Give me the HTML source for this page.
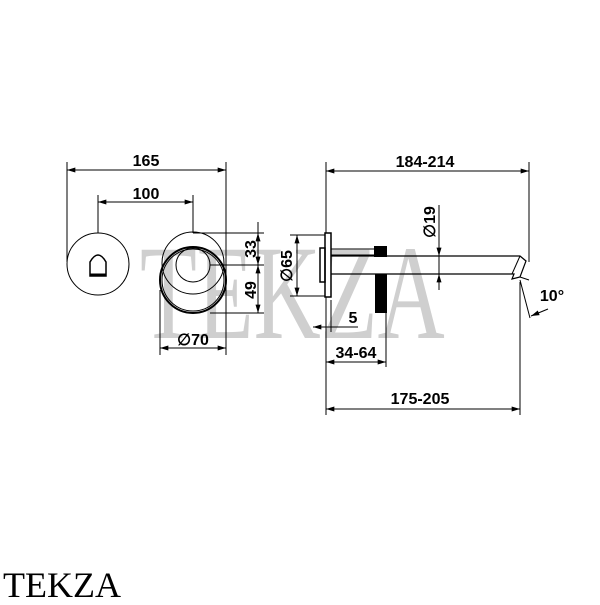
<!DOCTYPE html>
<html><head><style>html,body{margin:0;padding:0;background:#fff}</style></head><body>
<svg width="600" height="600" viewBox="0 0 600 600" xmlns="http://www.w3.org/2000/svg">
<defs>
<marker id="a" viewBox="0 0 10 6" refX="10" refY="3" markerWidth="11" markerHeight="5" orient="auto-start-reverse" markerUnits="userSpaceOnUse"><path d="M0,0 L10,3 L0,6 z" fill="#000"/></marker>
</defs>
<text transform="translate(140,338) scale(1,1.45)" font-family="Liberation Serif, serif" font-size="93" fill="#cfcfcf">TEKZA</text>
<g stroke="#000" stroke-width="1" fill="none">
<line x1="67" y1="162" x2="67" y2="262"/>
<line x1="226" y1="162" x2="226" y2="355"/>
<line x1="98" y1="195" x2="98" y2="233"/>
<line x1="193" y1="195" x2="193" y2="233"/>
<line x1="67" y1="170" x2="226" y2="170" marker-start="url(#a)" marker-end="url(#a)"/>
<line x1="98" y1="202" x2="193" y2="202" marker-start="url(#a)" marker-end="url(#a)"/>
<circle cx="98" cy="264" r="31"/>
<path d="M90,276 L90,262 Q98,248 106,262 L106,276 Z" stroke-width="1.5"/>
<line x1="90" y1="275" x2="106" y2="275" stroke-width="3"/>
<circle cx="193" cy="263" r="31"/>
<circle cx="193" cy="280" r="33" stroke-width="2"/>
<circle cx="193" cy="280" r="31"/>
<circle cx="193" cy="265" r="17"/>
<line x1="160" y1="290" x2="160" y2="355"/>
<line x1="193" y1="233" x2="264" y2="233"/>
<line x1="210" y1="265" x2="264" y2="265"/>
<line x1="210" y1="313" x2="264" y2="313"/>
<line x1="258" y1="222" x2="258" y2="313"/>
<line x1="258" y1="265" x2="258" y2="233" marker-end="url(#a)"/>
<line x1="258" y1="248" x2="258" y2="265" marker-end="url(#a)"/>
<line x1="258" y1="280" x2="258" y2="265" marker-end="url(#a)"/>
<line x1="258" y1="298" x2="258" y2="313" marker-end="url(#a)"/>
<line x1="160" y1="348" x2="226" y2="348" marker-start="url(#a)" marker-end="url(#a)"/>
<line x1="290" y1="235" x2="325" y2="235"/>
<line x1="290" y1="296" x2="325" y2="296"/>
<line x1="297" y1="235" x2="297" y2="296" marker-start="url(#a)" marker-end="url(#a)"/>
<line x1="326" y1="162" x2="326" y2="415"/>
<line x1="529" y1="162" x2="529" y2="262"/>
<line x1="326" y1="171" x2="529" y2="171" marker-start="url(#a)" marker-end="url(#a)"/>
<rect x="325" y="233" width="6" height="64" stroke-width="1.5" fill="#fff"/>
<rect x="320" y="248" width="5" height="34" stroke-width="1.5"/>
<line x1="331" y1="249" x2="375" y2="249"/>
<line x1="331" y1="255" x2="375" y2="255"/>
<line x1="331" y1="274" x2="375" y2="274"/>
<path d="M331,256 L520,256 L526,261 L520,277 L512,279 L514,274 L331,274" stroke-width="1.2"/>
<path d="M520,256 L512,274" />
<line x1="520" y1="277" x2="529" y2="280"/>
<line x1="520" y1="280" x2="530" y2="318"/>
<line x1="548" y1="309" x2="531" y2="316" marker-end="url(#a)"/>
<line x1="439" y1="205" x2="439" y2="285"/>
<line x1="439" y1="240" x2="439" y2="256" marker-end="url(#a)"/>
<line x1="439" y1="290" x2="439" y2="274" marker-end="url(#a)"/>
<line x1="331" y1="300" x2="331" y2="332"/>
<line x1="313" y1="327" x2="331" y2="327" marker-start="url(#a)"/>
<line x1="331" y1="327" x2="358" y2="327"/>
<line x1="386" y1="313" x2="386" y2="367"/>
<line x1="326" y1="362" x2="386" y2="362" marker-start="url(#a)" marker-end="url(#a)"/>
<line x1="520" y1="282" x2="520" y2="415"/>
<line x1="326" y1="409" x2="520" y2="409" marker-start="url(#a)" marker-end="url(#a)"/>
</g>
<rect x="374" y="246" width="13" height="11" fill="#000"/>
<rect x="375" y="274" width="12" height="39" fill="#000"/>
<g font-family="Liberation Sans, Arial, sans-serif" font-weight="bold" font-size="16" fill="#000" text-anchor="middle">
<text x="146" y="166">165</text>
<text x="146" y="199">100</text>
<text x="193" y="345">∅70</text>
<text transform="translate(256,249) rotate(-90)">33</text>
<text transform="translate(256,290) rotate(-90)">49</text>
<text transform="translate(292,266) rotate(-90)">∅65</text>
<text transform="translate(435,222) rotate(-90)">∅19</text>
<text x="425" y="167">184-214</text>
<text x="353" y="323">5</text>
<text x="356" y="358">34-64</text>
<text x="420" y="404">175-205</text>
<text x="552" y="301">10°</text>
</g>
<text x="3" y="597" font-family="Liberation Serif, serif" font-size="36" fill="#000">TEKZA</text>
</svg>
</body></html>
